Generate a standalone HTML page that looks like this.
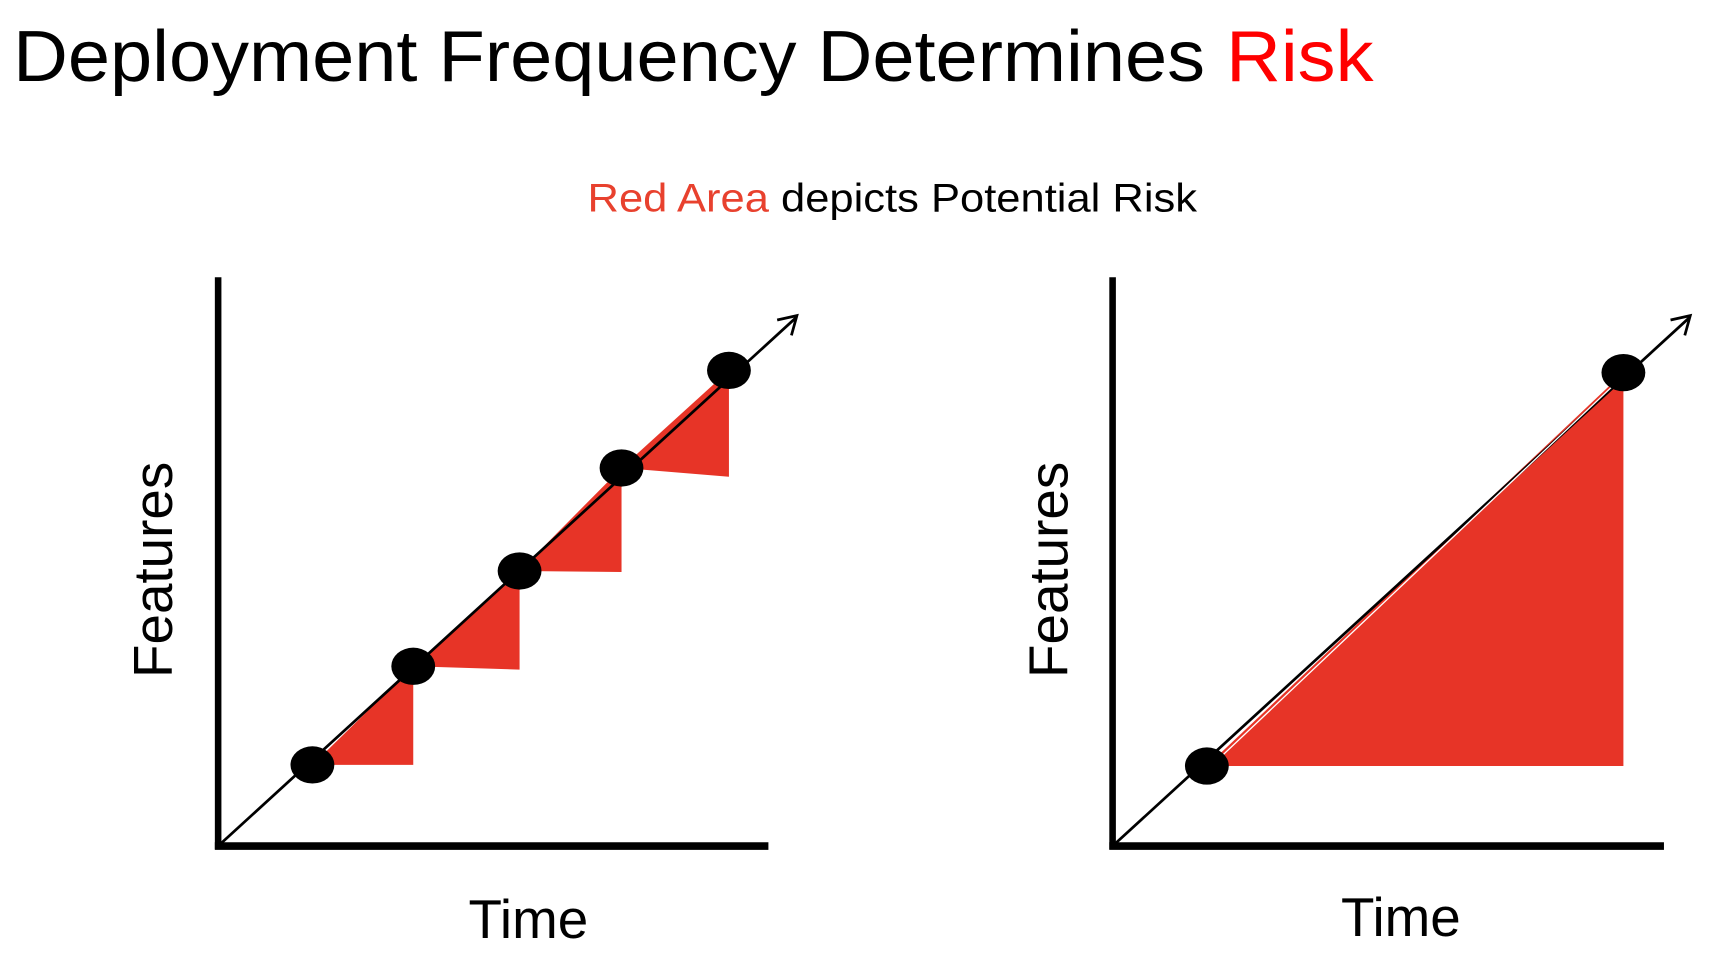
<!DOCTYPE html>
<html><head><meta charset="utf-8"><style>
html,body{margin:0;padding:0;background:#fff;width:1710px;height:960px;overflow:hidden}
svg{display:block}
</style></head><body>
<svg width="1710" height="960" viewBox="0 0 1560 876" preserveAspectRatio="none" xmlns="http://www.w3.org/2000/svg">
<text x="12" y="74" font-family="Liberation Sans, sans-serif" font-size="66" fill="#000" textLength="1241" lengthAdjust="spacingAndGlyphs">Deployment Frequency Determines <tspan fill="#ff0000">Risk</tspan></text>
<text x="814" y="193" text-anchor="middle" font-family="Liberation Sans, sans-serif" font-size="36" fill="#000" textLength="556" lengthAdjust="spacingAndGlyphs"><tspan fill="#e8412e">Red Area</tspan> depicts Potential Risk</text>

<g>
<polygon points="285,698 377,608 377,698" fill="#e73427"/>
<polygon points="377,608 474,521 474,611" fill="#e73427"/>
<polygon points="474,521 567,427 567,522" fill="#e73427"/>
<polygon points="567,427 665,338 665,435" fill="#e73427"/>
<line x1="199" y1="772" x2="726" y2="290" stroke="#000" stroke-width="2.5"/>
<polyline points="709,292 727,288 722,306" fill="none" stroke="#000" stroke-width="2.5"/>
<line x1="199" y1="253" x2="199" y2="775" stroke="#000" stroke-width="6"/>
<line x1="196" y1="772" x2="701" y2="772" stroke="#000" stroke-width="7"/>
<ellipse cx="285" cy="698" rx="20" ry="17"/>
<ellipse cx="377" cy="608" rx="20" ry="17"/>
<ellipse cx="474" cy="521" rx="20" ry="17"/>
<ellipse cx="567" cy="427" rx="20" ry="17"/>
<ellipse cx="665" cy="338" rx="20" ry="17"/>
<text transform="translate(157,520) rotate(-90)" text-anchor="middle" font-family="Liberation Sans, sans-serif" font-size="50" fill="#000">Features</text>
<text x="482" y="856" text-anchor="middle" font-family="Liberation Sans, sans-serif" font-size="50" fill="#000">Time</text>
</g>

<g>
<polygon points="1101,699 1481,340 1481,699" fill="#e73427"/>
<line x1="1015" y1="772" x2="1541" y2="290" stroke="#000" stroke-width="2.5"/>
<line x1="1104" y1="696" x2="1478" y2="342" stroke="#fff" stroke-width="1.2" transform="translate(2,2)"/>
<polyline points="1524,292 1542,288 1537,306" fill="none" stroke="#000" stroke-width="2.5"/>
<line x1="1015" y1="253" x2="1015" y2="775" stroke="#000" stroke-width="6"/>
<line x1="1012" y1="772" x2="1518" y2="772" stroke="#000" stroke-width="7"/>
<ellipse cx="1101" cy="699" rx="20" ry="17"/>
<ellipse cx="1481" cy="340" rx="20" ry="17"/>
<text transform="translate(974,520) rotate(-90)" text-anchor="middle" font-family="Liberation Sans, sans-serif" font-size="50" fill="#000">Features</text>
<text x="1278" y="854" text-anchor="middle" font-family="Liberation Sans, sans-serif" font-size="50" fill="#000">Time</text>
</g>
</svg>
</body></html>
